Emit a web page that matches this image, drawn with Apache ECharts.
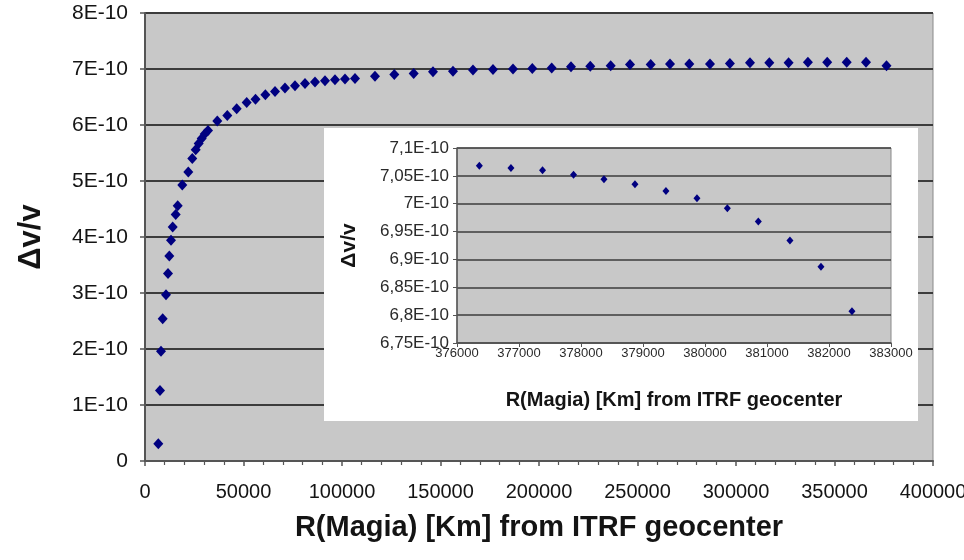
<!DOCTYPE html>
<html>
<head>
<meta charset="utf-8">
<script src="https://cdn.jsdelivr.net/npm/echarts@6/dist/echarts.min.js"></script>
<style>
  html, body { margin: 0; padding: 0; background: #ffffff; }
  #chart { width: 964px; height: 560px; }
</style>
</head>
<body>
<div id="chart"></div>
<script>
// Distance from the ITRF geocenter (km) and relative frequency shift (units of 1E-10)
const mainR = [6750, 7610, 8120, 8980, 10660, 11680, 12340, 13200, 14060, 15580, 16600, 18930,
  21980, 24000, 25740, 27260, 28780, 30300, 31980, 36700, 41780, 46540, 51620, 56100, 61100,
  66000, 71060, 76140, 81220, 86290, 91370, 96440, 101520, 106600, 116740, 126550, 136390,
  146190, 156340, 166490, 176640, 186800, 196600, 206450, 216240, 226030, 236400, 246200,
  256700, 266500, 276300, 286800, 296900, 307100, 316900, 326700, 336500, 346300, 356200,
  366000, 376400];
const mainDv = [0.31, 1.26, 1.96, 2.54, 2.97, 3.35, 3.66, 3.94, 4.18, 4.40, 4.56, 4.93,
  5.16, 5.40, 5.56, 5.67, 5.76, 5.84, 5.90, 6.07, 6.17, 6.29, 6.40, 6.46, 6.54,
  6.60, 6.66, 6.70, 6.74, 6.77, 6.79, 6.81, 6.82, 6.83, 6.87, 6.90, 6.92,
  6.95, 6.96, 6.98, 6.99, 7.00, 7.01, 7.02, 7.04, 7.05, 7.06, 7.08,
  7.08, 7.09, 7.09, 7.09, 7.10, 7.11, 7.11, 7.11, 7.12, 7.12, 7.12,
  7.12, 7.06];

// Detail near the Moon's distance
const insetR = [376360, 376870, 377380, 377880, 378370, 378870, 379370, 379870, 380360,
  380860, 381370, 381870, 382370];
const insetDv = [7.068, 7.064, 7.060, 7.052, 7.044, 7.035, 7.023, 7.010, 6.992,
  6.968, 6.934, 6.887, 6.807];

const xTitle = 'R(Magia) [Km] from ITRF geocenter';
const yTitle = 'Δv/v';

const FONT = "'Liberation Sans', Arial, sans-serif";
const PLOT_BG = '#c8c8c8';
const GRID_LINE = '#3c3c3c';
const AXIS_LINE = '#555555';
const MARK = '#000080';
const TEXT = '#141414';

function pairs(xs, ys) { return xs.map((x, i) => [x, ys[i]]); }

function plainNumber(v) { return String(Math.round(v)); }
function mainYLabel(v) {
  const r = Math.round(v * 100) / 100;
  return r === 0 ? '0' : r + 'E-10';
}
function insetYLabel(v) {
  const r = Math.round(v * 100) / 100;
  return String(r).replace('.', ',') + 'E-10';
}

const chart = echarts.init(document.getElementById('chart'), null, { renderer: 'canvas' });

chart.setOption({
  animation: false,
  backgroundColor: '#ffffff',
  textStyle: { fontFamily: FONT },
  graphic: [{
    type: 'rect',
    z: 5,
    shape: { x: 324, y: 128, width: 594, height: 293 },
    style: { fill: '#ffffff' }
  }],
  grid: [
    { left: 145, right: 31, top: 13, bottom: 99, show: true, backgroundColor: PLOT_BG,
      borderColor: '#8a8a8a', borderWidth: 1, z: 0, containLabel: false, outerBoundsMode: 'none' },
    { left: 457, right: 73, top: 148, bottom: 217, show: true, backgroundColor: PLOT_BG,
      borderColor: '#8a8a8a', borderWidth: 1, z: 10, containLabel: false, outerBoundsMode: 'none' }
  ],
  xAxis: [
    {
      gridIndex: 0, type: 'value', min: 0, max: 400000, interval: 50000,
      name: xTitle, nameLocation: 'middle', nameGap: 52,
      nameTextStyle: { fontSize: 29, fontWeight: 'bold', color: TEXT, fontFamily: FONT },
      axisLine: { lineStyle: { color: AXIS_LINE, width: 2 } },
      axisTick: { show: true, length: 5, lineStyle: { color: AXIS_LINE, width: 1.5 } },
      minorTick: { show: true, splitNumber: 5, length: 4, lineStyle: { color: AXIS_LINE, width: 1.2 } },
      splitLine: { show: false },
      axisLabel: { fontSize: 20, color: TEXT, margin: 21, fontFamily: FONT, formatter: plainNumber,
        hideOverlap: false, showMaxLabel: true }
    },
    {
      gridIndex: 1, type: 'value', min: 376000, max: 383000, interval: 1000, z: 11,
      name: xTitle, nameLocation: 'middle', nameGap: 47,
      nameTextStyle: { fontSize: 20, fontWeight: 'bold', color: TEXT, fontFamily: FONT },
      axisLine: { lineStyle: { color: AXIS_LINE, width: 1.5 } },
      axisTick: { show: true, length: 4, lineStyle: { color: AXIS_LINE, width: 1 } },
      splitLine: { show: false },
      axisLabel: { fontSize: 13, color: '#2a2a2a', margin: 4, fontFamily: FONT, formatter: plainNumber,
        hideOverlap: false, showMaxLabel: true }
    }
  ],
  yAxis: [
    {
      gridIndex: 0, type: 'value', min: 0, max: 8, interval: 1,
      name: yTitle, nameLocation: 'middle', nameGap: 98, nameRotate: 90,
      nameTextStyle: { fontSize: 31, fontWeight: 'bold', color: TEXT, fontFamily: FONT },
      axisLine: { show: true, lineStyle: { color: AXIS_LINE, width: 2 } },
      axisTick: { show: true, length: 5, lineStyle: { color: AXIS_LINE, width: 1.5 } },
      splitLine: { show: true, lineStyle: { color: GRID_LINE, width: 2 } },
      axisLabel: { fontSize: 21, color: TEXT, margin: 17, formatter: mainYLabel, fontFamily: FONT }
    },
    {
      gridIndex: 1, type: 'value', min: 6.75, max: 7.1, interval: 0.05, z: 11,
      name: yTitle, nameLocation: 'middle', nameGap: 97, nameRotate: 90,
      nameTextStyle: { fontSize: 21, fontWeight: 'bold', color: TEXT, fontFamily: FONT },
      axisLine: { show: true, lineStyle: { color: AXIS_LINE, width: 1.5 } },
      axisTick: { show: true, length: 4, lineStyle: { color: AXIS_LINE, width: 1 } },
      splitLine: { show: true, lineStyle: { color: GRID_LINE, width: 1.5 } },
      axisLabel: { fontSize: 17, color: '#2a2a2a', margin: 8, formatter: insetYLabel, fontFamily: FONT }
    }
  ],
  series: [
    {
      type: 'scatter', xAxisIndex: 0, yAxisIndex: 0, z: 3,
      symbol: 'diamond', symbolSize: [10, 11],
      itemStyle: { color: MARK, opacity: 1 },
      data: pairs(mainR, mainDv)
    },
    {
      type: 'scatter', xAxisIndex: 1, yAxisIndex: 1, z: 12,
      symbol: 'diamond', symbolSize: [7, 8],
      itemStyle: { color: MARK, opacity: 1 },
      data: pairs(insetR, insetDv)
    }
  ]
});
</script>
</body>
</html>
